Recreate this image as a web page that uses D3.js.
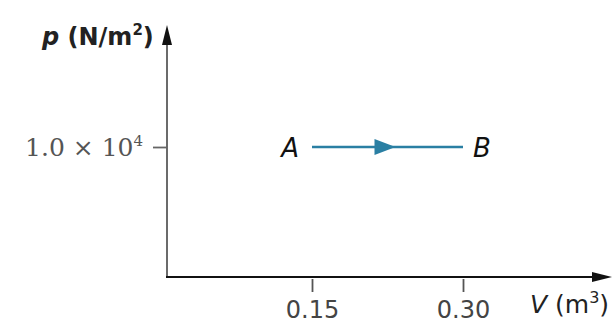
<!DOCTYPE html>
<html>
<head>
<meta charset="utf-8">
<script src="https://cdn.jsdelivr.net/npm/d3@7"></script>
<style>
  body { margin: 0; background: #fff; }
  svg { display: block; }
</style>
</head>
<body>
<div id="chart"></div>
<script>
// process A -> B at constant pressure
const pointNames = ["A", "B"];
const volumes = [0.15, 0.30];
const pressures = [1.0e4, 1.0e4];
const xTicks = [0.15, 0.30];
const xTickLabels = ["0.15", "0.30"];
const yTicks = [1.0e4];

const width = 612;
const height = 325;
const originX = 167;
const originY = 277;
const sans = "DejaVu Sans, Verdana, sans-serif";
const serif = "DejaVu Serif, Georgia, serif";

const svg = d3.select("#chart")
  .append("svg")
  .attr("width", width)
  .attr("height", height);

const x = d3.scaleLinear().domain([0, 0.30]).range([161, 463]);
const y = d3.scaleLinear().domain([0, 2.0e4]).range([originY, 17]);

// AXES
svg.append("line")
  .attr("x1", originX).attr("y1", originY)
  .attr("x2", originX).attr("y2", 40)
  .attr("stroke", "#6b6b6b").attr("stroke-width", 2);
svg.append("path")
  .attr("d", `M${originX - 5},45 L${originX},25 L${originX + 5},45 Z`)
  .attr("fill", "#111");

svg.append("line")
  .attr("x1", originX - 1).attr("y1", originY)
  .attr("x2", 596).attr("y2", originY)
  .attr("stroke", "#111").attr("stroke-width", 2.2);
svg.append("path")
  .attr("d", `M592,${originY - 5} L612,${originY} L592,${originY + 5} Z`)
  .attr("fill", "#111");

// X TICKS
const xAxis = d3.axisBottom(x)
  .tickValues(xTicks)
  .tickSize(13)
  .tickPadding(9)
  .tickFormat((d, i) => xTickLabels[i]);

const gx = svg.append("g")
  .attr("transform", `translate(0, ${originY + 2})`)
  .call(xAxis);
gx.select(".domain").remove();
gx.selectAll(".tick line").attr("stroke", "#555").attr("stroke-width", 1.8);
gx.selectAll(".tick text")
  .attr("font-family", sans)
  .attr("font-size", 24)
  .attr("fill", "#444");

// Y TICK
const yAxis = d3.axisLeft(y)
  .tickValues(yTicks)
  .tickSize(14)
  .tickFormat("");

const gy = svg.append("g")
  .attr("transform", `translate(${originX}, 0)`)
  .call(yAxis);
gy.select(".domain").remove();
gy.selectAll(".tick line").attr("stroke", "#666").attr("stroke-width", 1.8);

const yLabel = svg.append("text")
  .attr("x", 143)
  .attr("y", y(yTicks[0]) + 9)
  .attr("text-anchor", "end")
  .attr("font-family", serif)
  .attr("font-size", 25)
  .attr("fill", "#555");
yLabel.append("tspan").text("1.0 × 10");
yLabel.append("tspan").attr("dy", -10).attr("font-size", 15).text("4");

// AXIS TITLES
const pTitle = svg.append("text")
  .attr("x", 42).attr("y", 45)
  .attr("font-family", sans)
  .attr("font-size", 24)
  .attr("font-weight", "bold")
  .attr("fill", "#222");
pTitle.append("tspan").attr("font-style", "italic").text("p");
pTitle.append("tspan").text(" (N/m");
pTitle.append("tspan").attr("dy", -10).attr("font-size", 15).text("2");
pTitle.append("tspan").attr("dy", 10).text(")");

const vTitle = svg.append("text")
  .attr("x", 530).attr("y", 313)
  .attr("font-family", sans)
  .attr("font-size", 25)
  .attr("fill", "#222");
vTitle.append("tspan").attr("font-style", "italic").text("V");
vTitle.append("tspan").text(" (m");
vTitle.append("tspan").attr("dy", -10).attr("font-size", 16).text("3");
vTitle.append("tspan").attr("dy", 10).text(")");

// PROCESS LINE A -> B
const lineColor = "#2a7fa3";
const pts = volumes.map((v, i) => [x(v), y(pressures[i])]);

svg.append("path")
  .datum(pts)
  .attr("d", d3.line())
  .attr("stroke", lineColor)
  .attr("stroke-width", 2.4)
  .attr("fill", "none");

const tipX = (pts[0][0] + pts[1][0]) / 2 + 8;
const midY = (pts[0][1] + pts[1][1]) / 2;
svg.append("path")
  .attr("d", `M${tipX - 21},${midY - 8} L${tipX},${midY} L${tipX - 21},${midY + 8} Z`)
  .attr("fill", lineColor);

svg.selectAll(".pointLabel")
  .data(pointNames)
  .join("text")
  .attr("class", "pointLabel")
  .attr("x", (d, i) => x(volumes[i]) + (i === 0 ? -13 : 10))
  .attr("y", (d, i) => y(pressures[i]) + 10)
  .attr("text-anchor", (d, i) => i === 0 ? "end" : "start")
  .attr("font-family", sans)
  .attr("font-style", "italic")
  .attr("font-size", 26)
  .attr("fill", "#111")
  .text(d => d);
</script>
</body>
</html>
